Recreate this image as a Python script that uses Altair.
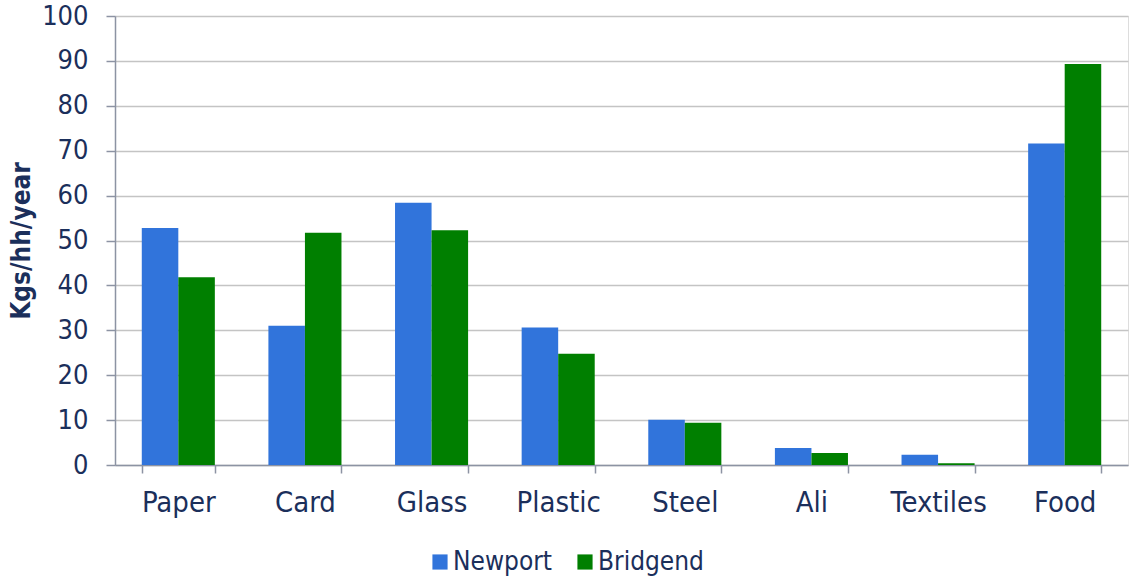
import altair as alt
import pandas as pd

categories = ["Paper", "Card", "Glass", "Plastic", "Steel", "Ali", "Textiles", "Food"]
series = ["Newport", "Bridgend"]
newport = [52.8, 31.0, 58.4, 30.6, 10.1, 3.8, 2.3, 71.6]
bridgend = [41.8, 51.7, 52.3, 24.8, 9.4, 2.7, 0.4, 89.3]
colors = ["#3174DB", "#007F00"]
y_ticks = list(range(0, 101, 10))

rows = []
for c, a, b in zip(categories, newport, bridgend):
    rows.append({"category": c, "series": "Newport", "value": a})
    rows.append({"category": c, "series": "Bridgend", "value": b})
df = pd.DataFrame(rows)

FONT = "DejaVu Sans Condensed"
TEXT = "#1B2F5B"
AXIS = "#8C93A3"

chart = alt.Chart(df).mark_bar().encode(
    x=alt.X(
        "category:N",
        sort=categories,
        scale=alt.Scale(paddingInner=0.423, paddingOuter=0.2115),
        axis=alt.Axis(
            title=None,
            labelAngle=0,
            tickBand="extent",
            tickSize=8,
            tickColor=AXIS,
            tickWidth=1.5,
            domainColor=AXIS,
            domainWidth=1.5,
            labelFont=FONT,
            labelFontSize=29,
            labelColor=TEXT,
            labelPadding=15,
            grid=False,
        ),
    ),
    xOffset=alt.XOffset("series:N", sort=series),
    y=alt.Y(
        "value:Q",
        scale=alt.Scale(domain=[0, 100], nice=False),
        axis=alt.Axis(
            title="Kgs/hh/year",
            titleFont=FONT,
            titleFontSize=26,
            titleFontWeight="bold",
            titleColor=TEXT,
            titlePadding=7,
            values=y_ticks,
            tickSize=9,
            tickColor=AXIS,
            tickWidth=1.5,
            domainColor=AXIS,
            domainWidth=1.5,
            labelFont=FONT,
            labelFontSize=27,
            labelColor=TEXT,
            labelPadding=18,
            grid=True,
            gridColor="#C4C4C4",
            gridWidth=1.5,
        ),
    ),
    color=alt.Color(
        "series:N",
        sort=series,
        scale=alt.Scale(domain=series, range=colors),
        legend=alt.Legend(
            title=None,
            orient="none",
            direction="horizontal",
            legendX=312,
            legendY=533,
            symbolType="square",
            symbolSize=230,
            symbolStrokeWidth=0,
            symbolOpacity=1,
            labelFont=FONT,
            labelFontSize=26,
            labelColor=TEXT,
            labelOffset=0,
            columnPadding=20,
            padding=0,
        ),
    ),
).properties(
    width=1013,
    height=449,
    autosize=alt.AutoSizeParams(type="none"),
    padding={"left": 115, "top": 16, "right": 4, "bottom": 114},
).configure_view(stroke=None).configure(background="white")

chart.save("out.html", embed_options={"renderer": "svg", "actions": False})
